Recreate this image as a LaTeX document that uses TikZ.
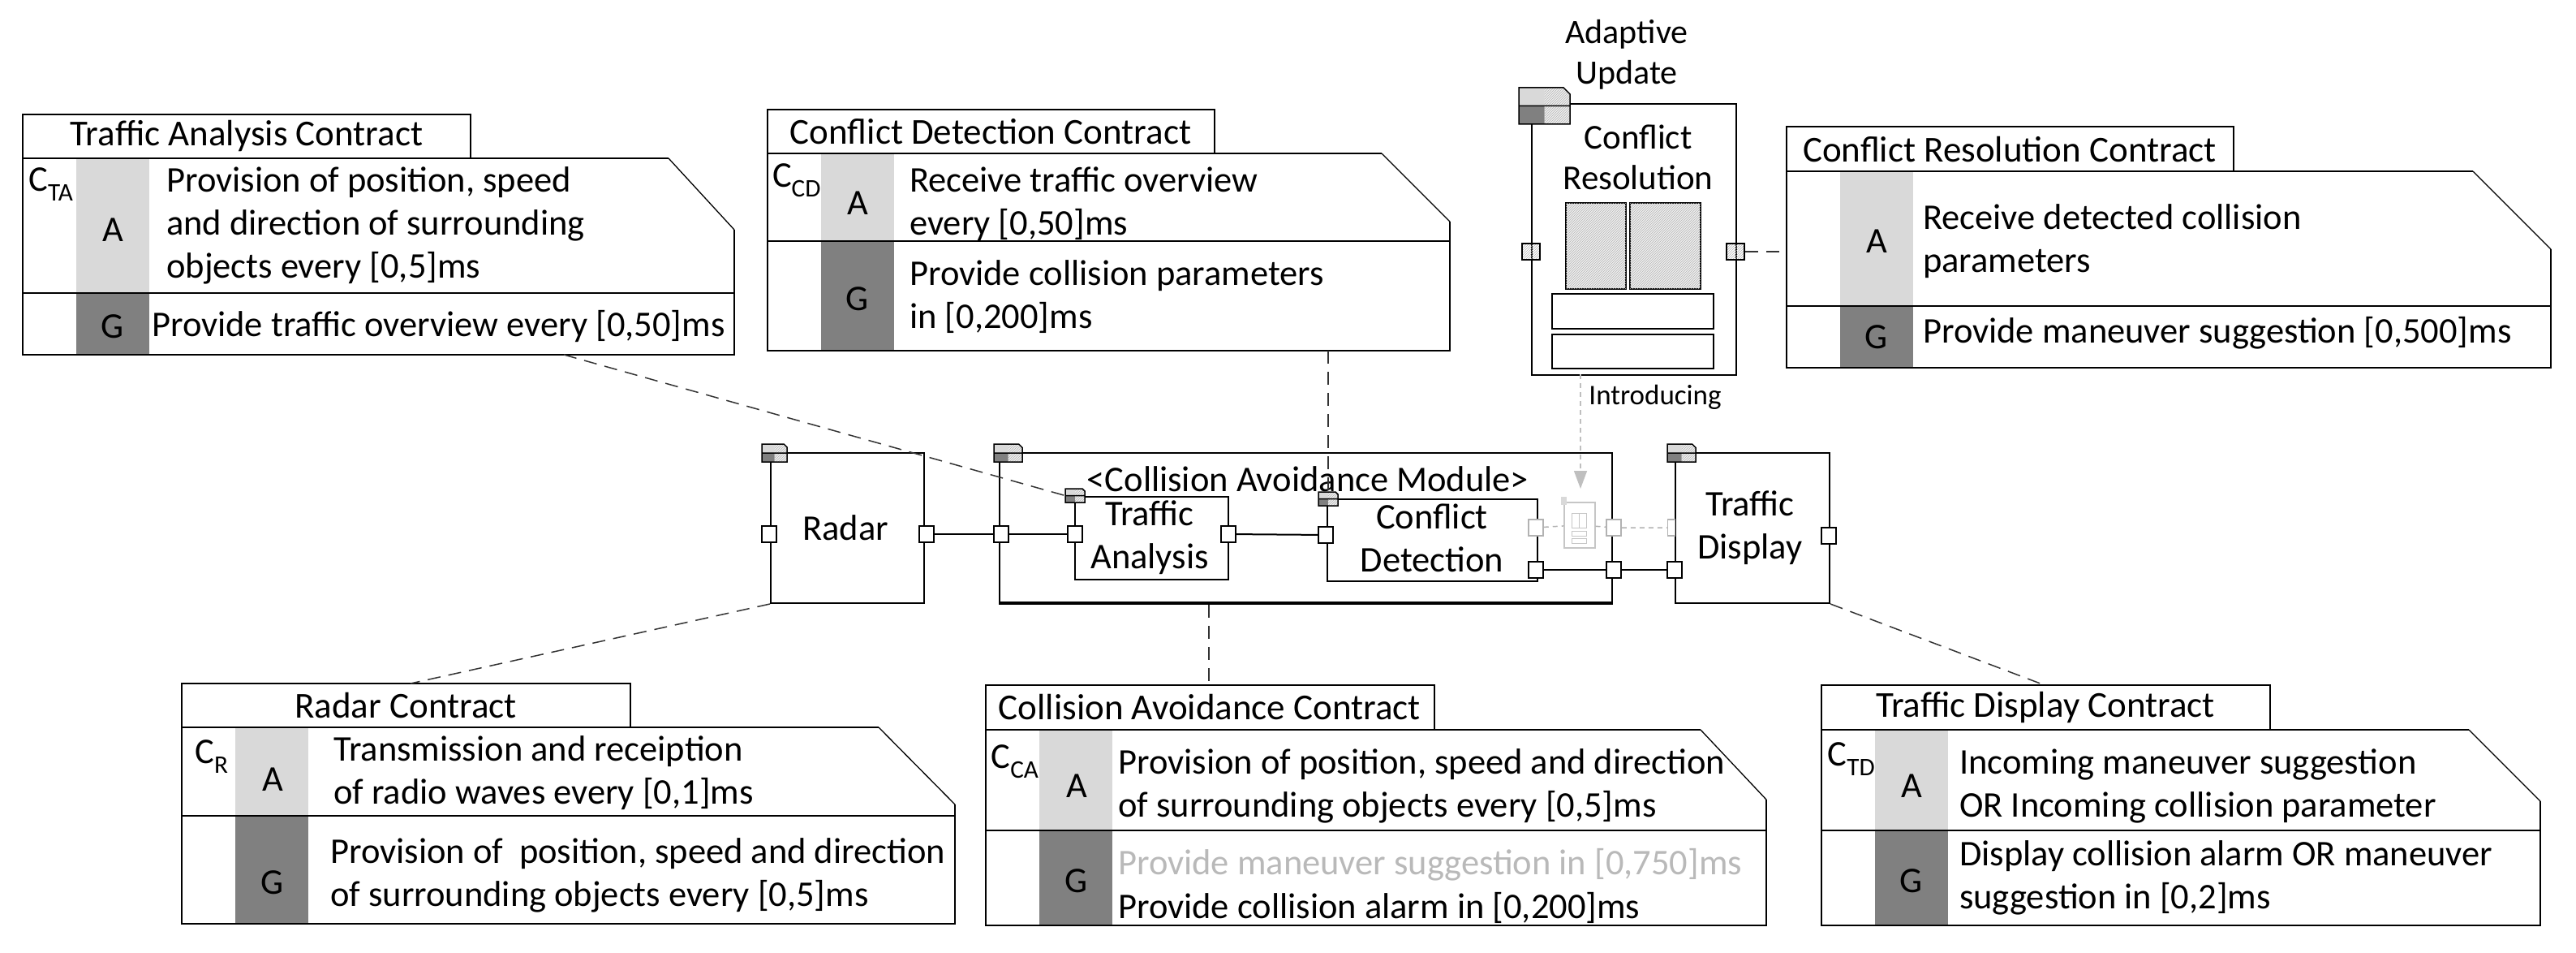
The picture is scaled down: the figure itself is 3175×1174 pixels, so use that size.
\documentclass[tikz,border=0pt]{standalone}
\usepackage{fontspec}
\setmainfont{Carlito}
\usetikzlibrary{patterns,arrows.meta}
\definecolor{lg}{HTML}{D9D9D9}
\definecolor{dg}{HTML}{808080}
\newcommand\cicon[4]{%
 \fill[lg] (#1,#2) rectangle (#1+#3/2,#2+#4/2);
 \fill[dg] (#1,#2+#4/2) rectangle (#1+#3/2,#2+#4);
 \fill[gray!12] (#1+#3/2,#2) -- (#1+#3*7/8,#2) -- (#1+#3,#2+#3/8) -- (#1+#3,#2+#4) -- (#1+#3/2,#2+#4) -- cycle;
 \fill[pattern=north east lines,pattern color=gray!60] (#1+#3/2,#2) -- (#1+#3*7/8,#2) -- (#1+#3,#2+#3/8) -- (#1+#3,#2+#4) -- (#1+#3/2,#2+#4) -- cycle;
 \draw[line width=1.5pt] (#1,#2) -- (#1+#3*7/8,#2) -- (#1+#3,#2+#3/8) -- (#1+#3,#2+#4) -- (#1,#2+#4) -- cycle (#1,#2+#4/2) -- (#1+#3,#2+#4/2);}
% x1, tabtop, tabright, bodytop, slantx, right, slanty, divider, bottom
\newcommand\contract[9]{%
 \fill[lg] (#1+66,#4) rectangle (#1+156,#8);
 \fill[dg] (#1+66,#8) rectangle (#1+156,#9);
 \draw[line width=2pt] (#1,#2) rectangle (#3,#4);
 \draw[line width=2pt] (#1,#4) -- (#5,#4);
 \draw[line width=1.3pt] (#5,#4) -- (#6,#7);
 \draw[line width=2pt] (#6,#7) -- (#6,#9) -- (#1,#9) -- (#1,#4);
 \draw[line width=2pt] (#1,#8) -- (#6,#8);}
\begin{document}
\begin{tikzpicture}[x=1pt,y=-1pt,
  every node/.style={font=\fontsize{44.5}{53}\selectfont},
  tt/.style={font=\fontsize{45}{53}\selectfont},
  ct/.style={anchor=west,align=left,inner sep=0pt},
  box/.style={draw,line width=2pt,anchor=north west,inner sep=0pt},
  port/.style={draw,line width=1.5pt,fill=white,minimum width=18pt,minimum height=20pt,inner sep=0pt},
  gport/.style={port,draw=gray!60},
  hport/.style={port,pattern=north east lines,pattern color=gray!60},
  dl/.style={dash pattern=on 16pt off 10pt,line width=1.5pt,black!80},
  wire/.style={line width=2pt},
  gwire/.style={line width=1.5pt,gray!60,dash pattern=on 6pt off 5pt}]
\useasboundingbox (0,0) rectangle (3175,1174);

% ---------- contracts ----------
\contract{28}{141}{580}{195}{824}{905}{283}{361}{437}
\node[tt] at (304,168) (tat) {Traffic Analysis Contract};
\node at (63,227) (tac) {C\textsubscript{TA}};
\node at (139,283) {A};
\node at (139,402) {G};
\node[ct] at (205,278) (taa) {Provision of position, speed\\and direction of surrounding\\objects every [0,5]ms};
\node[ct] at (187,402) {Provide traffic overview every [0,50]ms};
\coordinate (tabot) at (695,437);

\contract{946}{135}{1497}{189}{1703}{1787}{273}{297}{432}
\node[tt] at (1221,162) {Conflict Detection Contract};
\node at (982,222) {C\textsubscript{CD}};
\node at (1057,250) {A};
\node at (1057,368) {G};
\node[ct] at (1121,251) {Receive traffic overview\\every [0,50]ms};
\node[ct] at (1121,366) {Provide collision parameters\\in [0,200]ms};
\coordinate (cdbot) at (1637,432);

\contract{2202}{156}{2753}{211}{3048}{3144}{307}{377}{453}
\node[tt] at (2477,184) {Conflict Resolution Contract};
\node at (2313,297) {A};
\node at (2313,415) {G};
\node[ct] at (2370,297) {Receive detected collision\\parameters};
\node[ct] at (2370,410) {Provide maneuver suggestion [0,500]ms};
\coordinate (crcl) at (2202,310);

\contract{224}{842}{777}{896}{1083}{1177}{991}{1005}{1138}
\node[tt] at (500,869) {Radar Contract};
\node at (261,932) {C\textsubscript{R}};
\node at (336,960) {A};
\node at (336,1087) {G};
\node[ct] at (411,952) {Transmission and receiption\\of radio waves every [0,1]ms};
\node[ct] at (407,1078) {Provision of\ \ position, speed and direction\\of surrounding objects every [0,5]ms};
\coordinate (rctop) at (506,842);

\contract{1215}{844}{1768}{899}{2096}{2177}{985}{1023}{1140}
\node[tt] at (1491,871) {Collision Avoidance Contract};
\node at (1251,938) {C\textsubscript{CA}};
\node at (1327,968) {A};
\node at (1327,1085) {G};
\node[ct] at (1378,968) {Provision of position, speed and direction\\of surrounding objects every [0,5]ms};
\node[ct,gray!55] at (1378,1065) {Provide maneuver suggestion in [0,750]ms};
\node[ct] at (1378,1118) {Provide collision alarm in [0,200]ms};
\coordinate (catop) at (1490,844);

\contract{2245}{844}{2798}{899}{3043}{3131}{987}{1023}{1140}
\node[tt] at (2521,871) {Traffic Display Contract};
\node at (2282,935) {C\textsubscript{TD}};
\node at (2356,968) {A};
\node at (2356,1085) {G};
\node[ct] at (2415,968) {Incoming maneuver suggestion\\OR Incoming collision parameter};
\node[ct] at (2415,1081) {Display collision alarm OR maneuver\\suggestion in [0,2]ms};
\coordinate (tdtop) at (2520,844);

% ---------- components ----------
\node[box,minimum width=189pt,minimum height=185pt] (radar) at (949,557) {};
\node at (1042,650) {Radar};
\cicon{939}{547}{31}{22}
\node[box,minimum width=755pt,minimum height=186pt] (cam) at (1231,557) {};
\draw[line width=3.5pt] (1231,743) -- (1986,743);
\cicon{1225}{547}{35}{22}
\node at (1612,590) {<Collision Avoidance Module>};
\node[box,fill=white,minimum width=189pt,minimum height=102pt] (ta) at (1324,611) {};
\node[align=center] at (1417,662) {Traffic\\Analysis};
\cicon{1313}{602}{24}{17}
\node[box,fill=white,minimum width=259pt,minimum height=101pt] (cd) at (1635,614) {};
\node[align=center] at (1765,663) {Conflict\\Detection};
\cicon{1625}{606}{24}{17}
\node[box,minimum width=190pt,minimum height=185pt] (td) at (2064,557) {};
\node[align=center] at (2157,650) {Traffic\\Display};
\cicon{2055}{547}{35}{22}

% tiny greyed component
\node[draw=gray!45,line width=1.5pt,anchor=north west,minimum width=38pt,minimum height=56pt,inner sep=0pt] (tiny) at (1927,618) {};
\draw[gray!45,line width=1pt] (1937,632) rectangle (1955,650) (1937,654) rectangle (1955,660) (1937,663) rectangle (1955,669) (1946,632) -- (1946,650);
\fill[gray!30] (1924,612) rectangle (1931,622);

% conflict resolution
\node[box,minimum width=252pt,minimum height=334pt] (cr) at (1887,127) {};
\node[align=center,font=\fontsize{43}{50}\selectfont] at (2019,194) {Conflict\\Resolution};
\node[align=center,font=\fontsize{42}{50}\selectfont] at (2005,67) {Adaptive\\Update};
\cicon{1872}{108}{63}{45}
\filldraw[fill=gray!12,line width=1.5pt] (1930,250) rectangle (2004,356) (2009,250) rectangle (2096,356);
\fill[pattern=north east lines,pattern color=gray!60] (1930,250) rectangle (2004,356) (2009,250) rectangle (2096,356);
\draw[line width=1.5pt] (1913,362) rectangle (2112,405) (1913,412) rectangle (2112,454);
\node[font=\fontsize{35}{40}\selectfont] at (2040,489) {Introducing};

% ports
\node[port] (radarL) at (948,658) {};
\node[port] (radarR) at (1142,658) {};
\node[port] (camL) at (1234,658) {};
\node[port] (taL) at (1325,658) {};
\node[port] (taR) at (1514,658) {};
\node[port] (cdL) at (1634,659) {};
\node[port] (cdR) at (1893,702) {};
\node[gport] (cdG) at (1893,650) {};
\node[port] (camR) at (1989,702) {};
\node[gport] (camG) at (1989,650) {};
\node[port] (tdL) at (2064,702) {};
\node[gport,minimum width=9pt] (tdG) at (2060,650) {};
\node[port] (tdR) at (2254,660) {};
\node[hport,minimum width=22pt] (crL) at (1887,310) {};
\node[hport,minimum width=22pt] (crR) at (2139,310) {};

% wires
\draw[wire] (radarR) -- (camL) -- (taL);
\draw[wire] (taR) -- (cdL);
\draw[wire] (cdR) -- (camR) -- (tdL);
\draw[gwire] (cdG) -- (tiny) -- (camG) -- (tdG);
\coordinate (crb) at (1948,461);
\coordinate (arrtip) at (1948,602);
\draw[gwire,-{Triangle[length=22pt,width=16pt]},gray!50] (crb) -- (arrtip);

% contract links
\draw[dl] (tabot) -- (1318,612);
\draw[dl] (cdbot) -- (1637,606);
\draw[dl] (cam.south -| catop) -- (catop);
\draw[dl] (radar.south west) -- (rctop);
\draw[dl] (td.south east) -- (tdtop);
\draw[dl] (crR) -- (crcl);
\end{tikzpicture}
\end{document}
